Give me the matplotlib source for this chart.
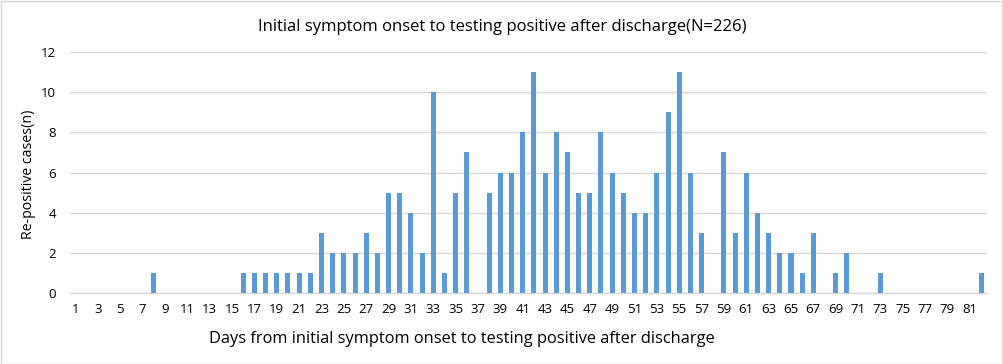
import matplotlib
matplotlib.use("Agg")
import matplotlib.pyplot as plt
from matplotlib.patches import Rectangle

days = list(range(1, 83))
cases = [0, 0, 0, 0, 0, 0, 0, 1, 0, 0,      # 1-10
         0, 0, 0, 0, 0, 1, 1, 1, 1, 1,      # 11-20
         1, 1, 3, 2, 2, 2, 3, 2, 5, 5,      # 21-30
         4, 2, 10, 1, 5, 7, 0, 5, 6, 6,     # 31-40
         8, 11, 6, 8, 7, 5, 5, 8, 6, 5,     # 41-50
         4, 4, 6, 9, 11, 6, 3, 0, 7, 3,     # 51-60
         6, 4, 3, 2, 2, 1, 3, 0, 1, 2,      # 61-70
         0, 0, 1, 0, 0, 0, 0, 0, 0, 0,      # 71-80
         0, 1]                              # 81-82
xtick_labels = [str(d) for d in range(1, 82, 2)]
yticks = [0, 2, 4, 6, 8, 10, 12]

title = "Initial symptom onset to testing positive after discharge(N=226)"
xlabel = "Days from initial symptom onset to testing positive after discharge"
ylabel = "Re-positive cases(n)"

plt.rcParams['font.family'] = ['Open Sans', 'DejaVu Sans']

fig = plt.figure(figsize=(10.04, 3.64), dpi=100)
ax = fig.add_axes([0.0697, 0.195, 0.913, 0.662])

ax.bar(days, cases, width=0.45, color="#5b9bd5", zorder=3)
ax.set_xlim(0.5, 82.5)
ax.set_ylim(0, 12)
ax.set_yticks(yticks)
ax.set_xticks(range(1, 82, 2))
ax.set_xticklabels(xtick_labels)
ax.grid(axis='y', color="#d9d9d9", linewidth=1, zorder=0)
for s in ['top', 'right', 'left']:
    ax.spines[s].set_visible(False)
ax.spines['bottom'].set_color("#d9d9d9")
ax.spines['bottom'].set_linewidth(1)
ax.tick_params(axis='both', length=0, labelsize=9.5, colors="#000000")
ax.tick_params(axis='x', pad=7)
ax.tick_params(axis='y', pad=10)

fig.text(0.5, 0.925, title, ha='center', va='center', fontsize=12, color="#000000")
fig.text(0.46, 0.068, xlabel, ha='center', va='center', fontsize=11.8, color="#000000")
fig.text(0.028, 0.52, ylabel, ha='center', va='center', rotation=90, fontsize=10.2, color="#000000")

fig.patches.append(Rectangle((0.0005, 0.001), 0.998, 0.997, transform=fig.transFigure,
                             fill=False, edgecolor="#d9d9d9", linewidth=1))

fig.savefig("out.png", dpi=100)
